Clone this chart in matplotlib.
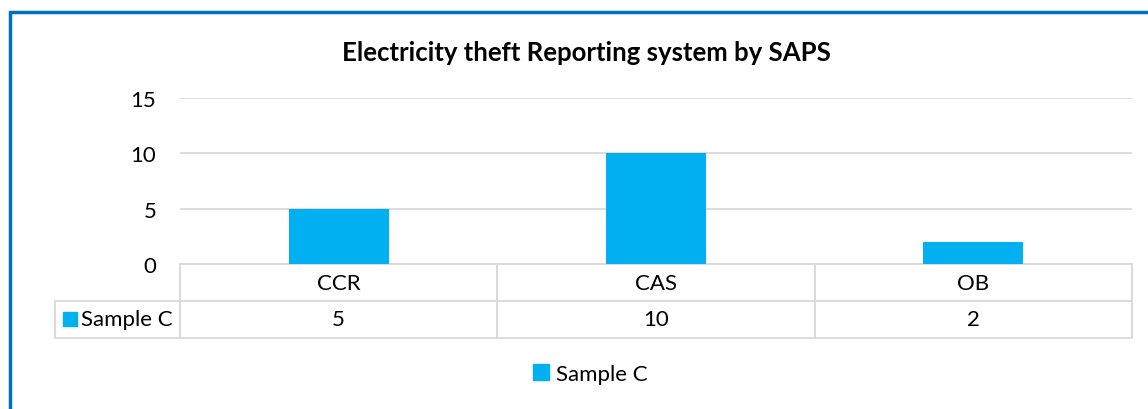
import matplotlib.pyplot as plt
from matplotlib.patches import Rectangle, Patch

categories = ["CCR", "CAS", "OB"]
values = [5, 10, 2]
series_name = "Sample C"
title = "Electricity theft Reporting system by SAPS"
yticks = [0, 5, 10, 15]

bar_color = "#00B0F0"
grid_color = "#d9d9d9"
frame_color = "#0070C0"

plt.rcParams["font.family"] = ["Lato", "DejaVu Sans"]

W, H = 1148, 410
fig = plt.figure(figsize=(W / 100, H / 100), dpi=100)

# plot area in pixels: x 180..1132, y 99 (15) .. 265 (0)
ax = fig.add_axes([180 / W, 1 - 265 / H, (1132 - 180) / W, (265 - 99) / H])
x = list(range(len(categories)))
ax.bar(x, values, width=0.315, color=bar_color, zorder=3)
ax.set_xlim(-0.5, len(categories) - 0.5)
ax.set_ylim(0, 15)
ax.set_yticks(yticks)
ax.set_xticks([])
ax.tick_params(axis="y", length=0, pad=17, labelsize=16)
ax.yaxis.grid(True, color=grid_color, linewidth=1.3, zorder=0)
for s in ax.spines.values():
    s.set_visible(False)

# data table under the axis (sizes in axes fractions)
ax_w = 1132 - 180
ax_h = 265 - 99
lab_w = (180 - 55) / ax_w
row_h = (339 - 265) / 2 / ax_h
tbl = ax.table(cellText=[[str(v) for v in values]],
               colLabels=categories,
               cellLoc="center",
               bbox=[0, -2 * row_h, 1, 2 * row_h])
lab = tbl.add_cell(1, -1, width=lab_w, height=row_h, text=series_name, loc="right")
lab.PAD = 0.06
tbl.auto_set_font_size(False)
tbl.set_fontsize(16)
for (r, c), cell in tbl.get_celld().items():
    cell.set_edgecolor(grid_color)
    cell.set_linewidth(1.3)
    cell.set_height(row_h)
    cell.set_width(lab_w if c == -1 else 1 / len(categories))

# legend key inside the row label cell
fig.add_artist(Rectangle((63 / W, 1 - 327 / H), 14 / W, 14 / H,
                         transform=fig.transFigure, color=bar_color))

fig.text(586 / W, 1 - 53 / H, title, ha="center", va="center",
         fontsize=18.5, fontweight="bold")

fig.legend(handles=[Patch(color=bar_color, label=series_name)],
           loc="center", bbox_to_anchor=(590 / W, 1 - 375 / H),
           frameon=False, fontsize=16, handlelength=0.75, handleheight=0.75,
           handletextpad=0.3)

# chart frame (left and top edges visible)
fig.add_artist(Rectangle((9.5 / W, -0.1), 1.2, 1.1 - 12.5 / H,
                         transform=fig.transFigure, fill=False,
                         edgecolor=frame_color, linewidth=2.5, clip_on=False))

fig.savefig("out.png", dpi=100)
